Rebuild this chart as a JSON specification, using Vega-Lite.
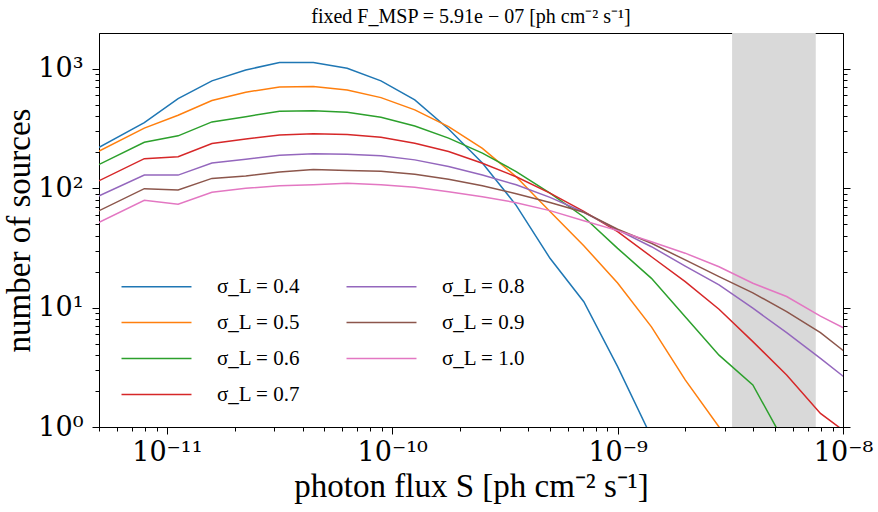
{
  "$schema": "https://vega.github.io/schema/vega-lite/v6.json",
  "width": 744,
  "height": 394,
  "autosize": {"type": "none"},
  "padding": {"left": 99, "top": 33, "right": 35, "bottom": 85},
  "title": {"text": "fixed F_MSP = 5.91e − 07  [ph cm⁻² s⁻¹]", "font": "Liberation Serif", "fontSize": 20, "fontWeight": "normal", "color": "#000", "offset": 6, "frame": "group"},
  "config": {
    "view": {"stroke": "#000", "strokeWidth": 1},
    "axis": {"domainColor": "#000", "tickColor": "#000", "labelColor": "#000", "titleColor": "#000", "grid": false, "labelFont": "DejaVu Serif", "titleFont": "Liberation Serif", "titleFontWeight": "normal", "labelFontSize": 27, "titleFontSize": 33},
    "legend": {"labelFont": "Liberation Serif", "labelFontSize": 21, "labelColor": "#000"}
  },
  "datasets": {
    "band": [{"x0": 3.22e-9, "x1": 7.57e-9}],
    "curves": [
      {"sigma": "0.4", "S": 3.981e-12, "n": 174}, {"sigma": "0.4", "S": 7.943e-12, "n": 355}, {"sigma": "0.4", "S": 1.122e-11, "n": 564}, {"sigma": "0.4", "S": 1.585e-11, "n": 794}, {"sigma": "0.4", "S": 2.239e-11, "n": 981}, {"sigma": "0.4", "S": 3.162e-11, "n": 1130}, {"sigma": "0.4", "S": 4.467e-11, "n": 1130}, {"sigma": "0.4", "S": 6.31e-11, "n": 1014}, {"sigma": "0.4", "S": 8.913e-11, "n": 794}, {"sigma": "0.4", "S": 1.259e-10, "n": 550}, {"sigma": "0.4", "S": 1.778e-10, "n": 314}, {"sigma": "0.4", "S": 2.512e-10, "n": 163}, {"sigma": "0.4", "S": 3.548e-10, "n": 72}, {"sigma": "0.4", "S": 5.012e-10, "n": 25.9}, {"sigma": "0.4", "S": 7.079e-10, "n": 11.2}, {"sigma": "0.4", "S": 1.0e-9, "n": 3.2}, {"sigma": "0.4", "S": 1.413e-9, "n": 0.82},
      {"sigma": "0.5", "S": 3.981e-12, "n": 165}, {"sigma": "0.5", "S": 7.943e-12, "n": 319}, {"sigma": "0.5", "S": 1.122e-11, "n": 409}, {"sigma": "0.5", "S": 1.585e-11, "n": 543}, {"sigma": "0.5", "S": 2.239e-11, "n": 638}, {"sigma": "0.5", "S": 3.162e-11, "n": 707}, {"sigma": "0.5", "S": 4.467e-11, "n": 711}, {"sigma": "0.5", "S": 6.31e-11, "n": 667}, {"sigma": "0.5", "S": 8.913e-11, "n": 575}, {"sigma": "0.5", "S": 1.259e-10, "n": 454}, {"sigma": "0.5", "S": 1.778e-10, "n": 329}, {"sigma": "0.5", "S": 2.512e-10, "n": 216}, {"sigma": "0.5", "S": 3.548e-10, "n": 125}, {"sigma": "0.5", "S": 5.012e-10, "n": 64}, {"sigma": "0.5", "S": 7.079e-10, "n": 33}, {"sigma": "0.5", "S": 1.0e-9, "n": 16.1}, {"sigma": "0.5", "S": 1.413e-9, "n": 6.9}, {"sigma": "0.5", "S": 1.995e-9, "n": 2.48}, {"sigma": "0.5", "S": 2.818e-9, "n": 1.0}, {"sigma": "0.5", "S": 3.981e-9, "n": 0.36},
      {"sigma": "0.6", "S": 3.981e-12, "n": 128}, {"sigma": "0.6", "S": 7.943e-12, "n": 243}, {"sigma": "0.6", "S": 1.122e-11, "n": 275}, {"sigma": "0.6", "S": 1.585e-11, "n": 360}, {"sigma": "0.6", "S": 2.239e-11, "n": 398}, {"sigma": "0.6", "S": 3.162e-11, "n": 442}, {"sigma": "0.6", "S": 4.467e-11, "n": 447}, {"sigma": "0.6", "S": 6.31e-11, "n": 434}, {"sigma": "0.6", "S": 8.913e-11, "n": 394}, {"sigma": "0.6", "S": 1.259e-10, "n": 333}, {"sigma": "0.6", "S": 1.778e-10, "n": 263}, {"sigma": "0.6", "S": 2.512e-10, "n": 197}, {"sigma": "0.6", "S": 3.548e-10, "n": 138}, {"sigma": "0.6", "S": 5.012e-10, "n": 91}, {"sigma": "0.6", "S": 7.079e-10, "n": 57.5}, {"sigma": "0.6", "S": 1.0e-9, "n": 31.4}, {"sigma": "0.6", "S": 1.413e-9, "n": 17.6}, {"sigma": "0.6", "S": 1.995e-9, "n": 8.4}, {"sigma": "0.6", "S": 2.818e-9, "n": 4.0}, {"sigma": "0.6", "S": 3.981e-9, "n": 2.25}, {"sigma": "0.6", "S": 5.623e-9, "n": 0.69},
      {"sigma": "0.7", "S": 3.981e-12, "n": 93.7}, {"sigma": "0.7", "S": 7.943e-12, "n": 177}, {"sigma": "0.7", "S": 1.122e-11, "n": 184}, {"sigma": "0.7", "S": 1.585e-11, "n": 237}, {"sigma": "0.7", "S": 2.239e-11, "n": 259}, {"sigma": "0.7", "S": 3.162e-11, "n": 280}, {"sigma": "0.7", "S": 4.467e-11, "n": 287}, {"sigma": "0.7", "S": 6.31e-11, "n": 282}, {"sigma": "0.7", "S": 8.913e-11, "n": 268}, {"sigma": "0.7", "S": 1.259e-10, "n": 238}, {"sigma": "0.7", "S": 1.778e-10, "n": 203}, {"sigma": "0.7", "S": 2.512e-10, "n": 162}, {"sigma": "0.7", "S": 3.548e-10, "n": 125}, {"sigma": "0.7", "S": 5.012e-10, "n": 91}, {"sigma": "0.7", "S": 7.079e-10, "n": 64}, {"sigma": "0.7", "S": 1.0e-9, "n": 43.3}, {"sigma": "0.7", "S": 1.413e-9, "n": 26.7}, {"sigma": "0.7", "S": 1.995e-9, "n": 16.5}, {"sigma": "0.7", "S": 2.818e-9, "n": 9.7}, {"sigma": "0.7", "S": 3.981e-9, "n": 5.19}, {"sigma": "0.7", "S": 5.623e-9, "n": 2.73}, {"sigma": "0.7", "S": 7.943e-9, "n": 1.3}, {"sigma": "0.7", "S": 1.122e-8, "n": 0.8},
      {"sigma": "0.8", "S": 3.981e-12, "n": 71}, {"sigma": "0.8", "S": 7.943e-12, "n": 129}, {"sigma": "0.8", "S": 1.122e-11, "n": 129}, {"sigma": "0.8", "S": 1.585e-11, "n": 163}, {"sigma": "0.8", "S": 2.239e-11, "n": 175}, {"sigma": "0.8", "S": 3.162e-11, "n": 189}, {"sigma": "0.8", "S": 4.467e-11, "n": 195}, {"sigma": "0.8", "S": 6.31e-11, "n": 193}, {"sigma": "0.8", "S": 8.913e-11, "n": 187}, {"sigma": "0.8", "S": 1.259e-10, "n": 173}, {"sigma": "0.8", "S": 1.778e-10, "n": 152}, {"sigma": "0.8", "S": 2.512e-10, "n": 129}, {"sigma": "0.8", "S": 3.548e-10, "n": 107}, {"sigma": "0.8", "S": 5.012e-10, "n": 84}, {"sigma": "0.8", "S": 7.079e-10, "n": 63}, {"sigma": "0.8", "S": 1.0e-9, "n": 44.8}, {"sigma": "0.8", "S": 1.413e-9, "n": 32.4}, {"sigma": "0.8", "S": 1.995e-9, "n": 22.3}, {"sigma": "0.8", "S": 2.818e-9, "n": 15.5}, {"sigma": "0.8", "S": 3.981e-9, "n": 9.9}, {"sigma": "0.8", "S": 5.623e-9, "n": 6.17}, {"sigma": "0.8", "S": 7.943e-9, "n": 3.76}, {"sigma": "0.8", "S": 1.122e-8, "n": 2.25},
      {"sigma": "0.9", "S": 3.981e-12, "n": 52.6}, {"sigma": "0.9", "S": 7.943e-12, "n": 99.3}, {"sigma": "0.9", "S": 1.122e-11, "n": 96.8}, {"sigma": "0.9", "S": 1.585e-11, "n": 121}, {"sigma": "0.9", "S": 2.239e-11, "n": 127}, {"sigma": "0.9", "S": 3.162e-11, "n": 137}, {"sigma": "0.9", "S": 4.467e-11, "n": 144}, {"sigma": "0.9", "S": 6.31e-11, "n": 141}, {"sigma": "0.9", "S": 8.913e-11, "n": 139}, {"sigma": "0.9", "S": 1.259e-10, "n": 131}, {"sigma": "0.9", "S": 1.778e-10, "n": 119}, {"sigma": "0.9", "S": 2.512e-10, "n": 105}, {"sigma": "0.9", "S": 3.548e-10, "n": 90}, {"sigma": "0.9", "S": 5.012e-10, "n": 76}, {"sigma": "0.9", "S": 7.079e-10, "n": 63}, {"sigma": "0.9", "S": 1.0e-9, "n": 45.4}, {"sigma": "0.9", "S": 1.413e-9, "n": 34.6}, {"sigma": "0.9", "S": 1.995e-9, "n": 25.1}, {"sigma": "0.9", "S": 2.818e-9, "n": 18.2}, {"sigma": "0.9", "S": 3.981e-9, "n": 13.3}, {"sigma": "0.9", "S": 5.623e-9, "n": 9.25}, {"sigma": "0.9", "S": 7.943e-9, "n": 6.17}, {"sigma": "0.9", "S": 1.122e-8, "n": 3.7},
      {"sigma": "1.0", "S": 3.981e-12, "n": 42}, {"sigma": "1.0", "S": 7.943e-12, "n": 79.4}, {"sigma": "1.0", "S": 1.122e-11, "n": 73.5}, {"sigma": "1.0", "S": 1.585e-11, "n": 92.7}, {"sigma": "1.0", "S": 2.239e-11, "n": 100}, {"sigma": "1.0", "S": 3.162e-11, "n": 105}, {"sigma": "1.0", "S": 4.467e-11, "n": 107}, {"sigma": "1.0", "S": 6.31e-11, "n": 110}, {"sigma": "1.0", "S": 8.913e-11, "n": 107}, {"sigma": "1.0", "S": 1.259e-10, "n": 102}, {"sigma": "1.0", "S": 1.778e-10, "n": 93.7}, {"sigma": "1.0", "S": 2.512e-10, "n": 85}, {"sigma": "1.0", "S": 3.548e-10, "n": 75.8}, {"sigma": "1.0", "S": 5.012e-10, "n": 65}, {"sigma": "1.0", "S": 7.079e-10, "n": 53.5}, {"sigma": "1.0", "S": 1.0e-9, "n": 44.2}, {"sigma": "1.0", "S": 1.413e-9, "n": 35.7}, {"sigma": "1.0", "S": 1.995e-9, "n": 28.6}, {"sigma": "1.0", "S": 2.818e-9, "n": 22.0}, {"sigma": "1.0", "S": 3.981e-9, "n": 16.0}, {"sigma": "1.0", "S": 5.623e-9, "n": 12.4}, {"sigma": "1.0", "S": 7.943e-9, "n": 8.5}, {"sigma": "1.0", "S": 1.122e-8, "n": 6.1}
    ]
  },
  "layer": [
    {
      "data": {"name": "band"},
      "mark": {"type": "rect", "color": "#d9d9d9"},
      "encoding": {
        "x": {
          "field": "x0", "type": "quantitative",
          "scale": {"type": "log", "domain": [5e-12, 1e-8], "nice": false},
          "axis": {
            "title": "photon flux S  [ph cm⁻² s⁻¹]",
            "values": [5e-12, 6e-12, 7e-12, 8e-12, 9e-12, 1e-11, 2e-11, 3e-11, 4e-11, 5e-11, 6e-11, 7e-11, 8e-11, 9e-11, 1e-10, 2e-10, 3e-10, 4e-10, 5e-10, 6e-10, 7e-10, 8e-10, 9e-10, 1e-9, 2e-9, 3e-9, 4e-9, 5e-9, 6e-9, 7e-9, 8e-9, 9e-9, 1e-8],
            "labelExpr": "datum.value == 1e-11 ? '10⁻¹¹' : datum.value == 1e-10 ? '10⁻¹⁰' : datum.value == 1e-9 ? '10⁻⁹' : datum.value == 1e-8 ? '10⁻⁸' : ''",
            "tickSize": {"condition": {"test": "indexof([1e-11, 1e-10, 1e-9, 1e-8], datum.value) >= 0", "value": 7}, "value": 4},
            "labelPadding": 5,
            "labelFlush": false,
            "labelOverlap": false,
            "titlePadding": 5
          }
        },
        "x2": {"field": "x1"}
      }
    },
    {
      "data": {"name": "curves"},
      "mark": {"type": "line", "strokeWidth": 1.5, "clip": true},
      "encoding": {
        "x": {
          "field": "S", "type": "quantitative",
          "scale": {"type": "log", "domain": [5e-12, 1e-8], "nice": false},
          "axis": {
            "title": "photon flux S  [ph cm⁻² s⁻¹]",
            "values": [5e-12, 6e-12, 7e-12, 8e-12, 9e-12, 1e-11, 2e-11, 3e-11, 4e-11, 5e-11, 6e-11, 7e-11, 8e-11, 9e-11, 1e-10, 2e-10, 3e-10, 4e-10, 5e-10, 6e-10, 7e-10, 8e-10, 9e-10, 1e-9, 2e-9, 3e-9, 4e-9, 5e-9, 6e-9, 7e-9, 8e-9, 9e-9, 1e-8],
            "labelExpr": "datum.value == 1e-11 ? '10⁻¹¹' : datum.value == 1e-10 ? '10⁻¹⁰' : datum.value == 1e-9 ? '10⁻⁹' : datum.value == 1e-8 ? '10⁻⁸' : ''",
            "tickSize": {"condition": {"test": "indexof([1e-11, 1e-10, 1e-9, 1e-8], datum.value) >= 0", "value": 7}, "value": 4},
            "labelPadding": 5,
            "labelFlush": false,
            "labelOverlap": false,
            "titlePadding": 5
          }
        },
        "y": {
          "field": "n", "type": "quantitative",
          "scale": {"type": "log", "domain": [1, 2000], "nice": false},
          "axis": {
            "orient": "left",
            "title": "number of sources",
            "values": [1, 2, 3, 4, 5, 6, 7, 8, 9, 10, 20, 30, 40, 50, 60, 70, 80, 90, 100, 200, 300, 400, 500, 600, 700, 800, 900, 1000],
            "labelExpr": "datum.value == 1 ? '10⁰' : datum.value == 10 ? '10¹' : datum.value == 100 ? '10²' : datum.value == 1000 ? '10³' : ''",
            "tickSize": {"condition": {"test": "indexof([1, 10, 100, 1000], datum.value) >= 0", "value": 7}, "value": 4},
            "labelPadding": 9,
            "labelFlush": false,
            "labelOverlap": false,
            "titlePadding": 1
          }
        },
        "color": {
          "field": "sigma", "type": "nominal",
          "scale": {"domain": ["0.4", "0.5", "0.6", "0.7", "0.8", "0.9", "1.0"], "range": ["#1f77b4", "#ff7f0e", "#2ca02c", "#d62728", "#9467bd", "#8c564b", "#e377c2"]},
          "legend": {
            "orient": "none", "legendX": 45, "legendY": 241, "columns": 2, "title": null,
            "symbolType": "M-3,0H3", "symbolSize": 544, "symbolStrokeWidth": 1.5,
            "labelExpr": "'σ_L = ' + datum.label", "labelOffset": 48, "rowPadding": 13, "columnPadding": 42
          }
        }
      }
    },
    {
      "data": {"name": "curves"},
      "mark": {"type": "line", "opacity": 0, "clip": true},
      "encoding": {
        "x": {
          "field": "S", "type": "quantitative",
          "axis": {
            "title": "photon flux S  [ph cm⁻² s⁻¹]",
            "values": [5e-12, 6e-12, 7e-12, 8e-12, 9e-12, 1e-11, 2e-11, 3e-11, 4e-11, 5e-11, 6e-11, 7e-11, 8e-11, 9e-11, 1e-10, 2e-10, 3e-10, 4e-10, 5e-10, 6e-10, 7e-10, 8e-10, 9e-10, 1e-9, 2e-9, 3e-9, 4e-9, 5e-9, 6e-9, 7e-9, 8e-9, 9e-9, 1e-8],
            "labelExpr": "datum.value == 1e-11 ? '10⁻¹¹' : datum.value == 1e-10 ? '10⁻¹⁰' : datum.value == 1e-9 ? '10⁻⁹' : datum.value == 1e-8 ? '10⁻⁸' : ''",
            "tickSize": {"condition": {"test": "indexof([1e-11, 1e-10, 1e-9, 1e-8], datum.value) >= 0", "value": 7}, "value": 4},
            "labelPadding": 5,
            "labelFlush": false,
            "labelOverlap": false,
            "titlePadding": 5
          }
        },
        "y": {
          "field": "n", "type": "quantitative",
          "axis": {
            "orient": "right", "title": null, "labels": false,
            "values": [1, 2, 3, 4, 5, 6, 7, 8, 9, 10, 20, 30, 40, 50, 60, 70, 80, 90, 100, 200, 300, 400, 500, 600, 700, 800, 900, 1000],
            "tickSize": {"condition": {"test": "indexof([1, 10, 100, 1000], datum.value) >= 0", "value": 7}, "value": 4}
          }
        }
      }
    }
  ],
  "resolve": {"axis": {"y": "independent"}}
}
